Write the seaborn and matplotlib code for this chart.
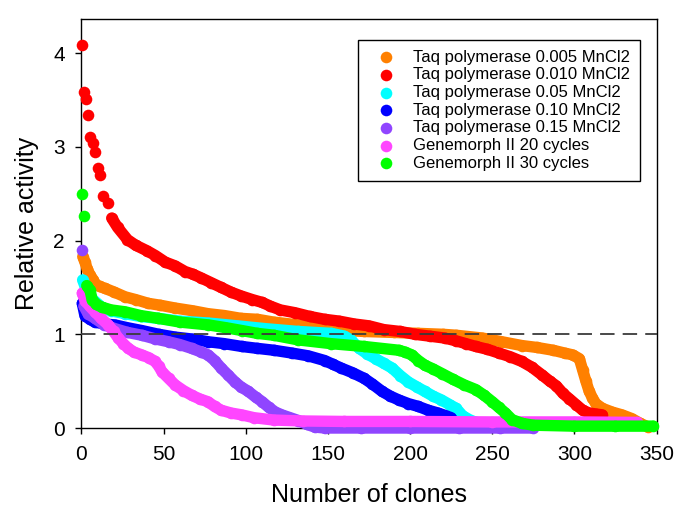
import numpy as np
import pandas as pd
import matplotlib
matplotlib.use("Agg")
import matplotlib.pyplot as plt
import seaborn as sns

# values (clone rank, relative activity)
series_names = [
    "Taq polymerase 0.005 MnCl2",
    "Taq polymerase 0.010 MnCl2",
    "Taq polymerase 0.05 MnCl2",
    "Taq polymerase 0.10 MnCl2",
    "Taq polymerase 0.15 MnCl2",
    "Genemorph II 20 cycles",
    "Genemorph II 30 cycles",
]

taq005_x = [0.8, 2.1, 3.5, 5.2, 7.2, 8.2, 11, 14.3, 20, 26.5, 33, 40.7, 48, 57, 68, 77, 87, 97,
            107, 117, 132, 152, 172, 190, 205, 220, 228, 244, 256, 268, 277, 287, 294, 299,
            303, 305, 307, 309, 311, 313, 317, 323, 329, 335, 340, 345]
taq005_y = [1.83, 1.77, 1.70, 1.63, 1.58, 1.54, 1.51, 1.49, 1.45, 1.40, 1.37, 1.33, 1.31, 1.28,
            1.25, 1.22, 1.20, 1.17, 1.16, 1.13, 1.10, 1.05, 1.03, 1.02, 1.01, 1.00, 0.99, 0.96,
            0.92, 0.88, 0.86, 0.83, 0.80, 0.78, 0.74, 0.62, 0.50, 0.39, 0.32, 0.26, 0.21, 0.17,
            0.14, 0.10, 0.05, 0.01]

taq010_x = [0.5, 1.7, 2.7, 4.1, 5.4, 6.8, 8.2, 9.9, 11.5, 13.3, 16.3, 18.4, 22, 28, 33, 40, 45,
            51, 57, 63, 68, 73, 79, 85, 91, 97, 104, 110, 115, 121, 130, 139, 148, 157, 166,
            175, 184, 194, 203, 212, 221, 228, 234, 240, 247, 254, 261, 268, 274, 280, 285,
            289, 293, 297, 301, 305, 309, 313, 317]
taq010_y = [4.09, 3.59, 3.51, 3.34, 3.11, 3.04, 2.95, 2.77, 2.70, 2.48, 2.40, 2.24, 2.14, 2.01,
            1.95, 1.89, 1.84, 1.77, 1.73, 1.67, 1.64, 1.60, 1.55, 1.50, 1.45, 1.41, 1.37, 1.34,
            1.30, 1.26, 1.23, 1.19, 1.16, 1.14, 1.11, 1.09, 1.05, 1.03, 1.00, 0.98, 0.96, 0.93,
            0.90, 0.87, 0.84, 0.80, 0.76, 0.71, 0.65, 0.57, 0.50, 0.45, 0.37, 0.31, 0.25, 0.19,
            0.16, 0.15, 0.14]

taq05_x = [0.7, 2, 4.1, 7, 12.3, 18, 26.5, 36, 46.8, 60, 77.3, 95, 112, 132, 152, 160, 164,
           169, 174, 179, 184, 189, 194, 199, 204, 209, 214, 219, 224, 228, 232, 236, 240]
taq05_y = [1.58, 1.52, 1.45, 1.37, 1.29, 1.25, 1.22, 1.19, 1.17, 1.14, 1.12, 1.09, 1.06, 1.03,
           1.01, 0.98, 0.94, 0.85, 0.79, 0.74, 0.69, 0.64, 0.56, 0.49, 0.44, 0.39, 0.34, 0.30,
           0.25, 0.21, 0.13, 0.09, 0.06]

taq10_x = [0.5, 2.1, 5, 8.2, 14, 20.4, 28, 36.7, 47, 57, 67, 77.3, 87, 97.6, 107, 117, 128,
           138, 148, 153, 158, 165, 172, 177, 183, 188, 193, 199, 205, 211, 217, 222, 225]
taq10_y = [1.33, 1.20, 1.16, 1.13, 1.11, 1.10, 1.07, 1.04, 1.00, 0.97, 0.95, 0.92, 0.90, 0.87,
           0.85, 0.83, 0.80, 0.77, 0.72, 0.68, 0.64, 0.59, 0.53, 0.47, 0.39, 0.34, 0.30, 0.26,
           0.23, 0.19, 0.16, 0.13, 0.11]

taq15_x = [0.5, 1.5, 4, 8.2, 14, 20.4, 28, 36.7, 45, 53, 60, 67, 73, 77, 81, 85, 89, 93.5, 97,
           101.6, 106, 110, 114, 118, 122, 127, 132, 137, 142, 148, 170, 200, 230, 255, 275]
taq15_y = [1.90, 1.30, 1.22, 1.17, 1.10, 1.06, 1.02, 0.99, 0.95, 0.92, 0.89, 0.85, 0.81, 0.78,
           0.72, 0.64, 0.57, 0.49, 0.44, 0.39, 0.33, 0.28, 0.22, 0.17, 0.14, 0.11, 0.08, 0.04,
           0.01, 0.00, 0.00, 0.00, 0.00, 0.00, 0.00]

gm20_x = [0.5, 2.1, 5, 8.2, 12, 16.3, 19.5, 22.4, 25.5, 28.5, 32, 36.7, 41, 44.8, 47, 49, 53,
          57, 62, 67, 72, 77, 81, 85, 91, 97.6, 105, 117, 135, 160, 200, 250, 300, 338]
gm20_y = [1.44, 1.36, 1.30, 1.24, 1.17, 1.10, 1.03, 0.96, 0.90, 0.85, 0.81, 0.78, 0.75, 0.71,
          0.66, 0.60, 0.53, 0.46, 0.40, 0.35, 0.31, 0.28, 0.23, 0.19, 0.16, 0.14, 0.11, 0.085,
          0.075, 0.07, 0.07, 0.065, 0.065, 0.06]

gm30_x = [0.5, 1.7, 3.2, 5.2, 6.5, 9, 12.3, 18, 26.5, 36, 46.8, 60, 77.3, 88, 97.6, 107, 117,
          132, 152, 172, 193, 197, 201, 205, 209, 214, 219.5, 226, 233, 240, 245, 250, 254,
          258, 262, 268, 275, 300, 325, 348]
gm30_y = [2.50, 2.26, 1.52, 1.47, 1.37, 1.32, 1.29, 1.26, 1.24, 1.20, 1.17, 1.13, 1.10, 1.07,
          1.04, 1.01, 0.99, 0.94, 0.90, 0.87, 0.83, 0.81, 0.78, 0.72, 0.67, 0.63, 0.58, 0.52,
          0.46, 0.41, 0.35, 0.28, 0.22, 0.16, 0.09, 0.05, 0.03, 0.02, 0.02, 0.02]

series_x = [taq005_x, taq010_x, taq05_x, taq10_x, taq15_x, gm20_x, gm30_x]
series_y = [taq005_y, taq010_y, taq05_y, taq10_y, taq15_y, gm20_y, gm30_y]

colors = ["#FF8000", "#FF0000", "#00FFFF", "#0000FF", "#9045FF", "#FF45FF", "#00FF00"]
# leading points that sit apart as single dots (no joining band)
loose_head = [0, 11, 0, 0, 1, 0, 2]

frames = []
for name, xs, ys in zip(series_names, series_x, series_y):
    frames.append(pd.DataFrame({"series": name, "clone": xs, "activity": ys}))
df = pd.concat(frames, ignore_index=True)

sns.set_style("ticks")
plt.rcParams["font.family"] = ["Liberation Sans", "DejaVu Sans"]
plt.rcParams["text.color"] = "black"
plt.rcParams["axes.labelcolor"] = "black"

fig = plt.figure(figsize=(6.75, 5.09), dpi=100)
ax = fig.add_axes([0.1207, 0.1591, 0.852, 0.8028])

for i, name in enumerate(series_names):
    sub = df[df["series"] == name]
    band = sub.iloc[loose_head[i]:]
    sns.lineplot(data=band, x="clone", y="activity", color=colors[i], lw=8.2,
                 sort=False, estimator=None, legend=False, ax=ax, zorder=3 + i,
                 solid_capstyle="round", solid_joinstyle="round", clip_on=False)
    sns.scatterplot(data=sub, x="clone", y="activity", color=colors[i], s=70,
                    linewidth=0, ax=ax, zorder=3 + i, label=name, clip_on=False)

ax.axhline(1, color="#3a3a3a", lw=1.3, linestyle=(0, (8, 4.5)), zorder=20)

ax.set_xlim(0, 350)
ax.set_ylim(0, 4.36)
ax.set_xticks(np.arange(0, 351, 50))
ax.set_yticks(np.arange(0, 5, 1))
for side in ["top", "right", "left", "bottom"]:
    ax.spines[side].set_visible(True)
    ax.spines[side].set_color("black")
    ax.spines[side].set_linewidth(1.0)
ax.tick_params(direction="out", length=4, width=1, labelsize=15, pad=8, colors="black")
ax.set_xlabel("Number of clones", fontsize=18, labelpad=14)
ax.set_ylabel("Relative activity", fontsize=18, labelpad=10)

leg = ax.legend(loc="upper right", bbox_to_anchor=(0.9713, 0.9503), borderaxespad=0,
                fontsize=12, frameon=True, fancybox=False, edgecolor="black",
                framealpha=1, borderpad=0.6, handlelength=2.2, handletextpad=0.5,
                labelspacing=0.16, markerscale=1.0)
leg.get_frame().set_linewidth(1.0)
leg.set_zorder(30)

fig.savefig("out.png", dpi=100)
